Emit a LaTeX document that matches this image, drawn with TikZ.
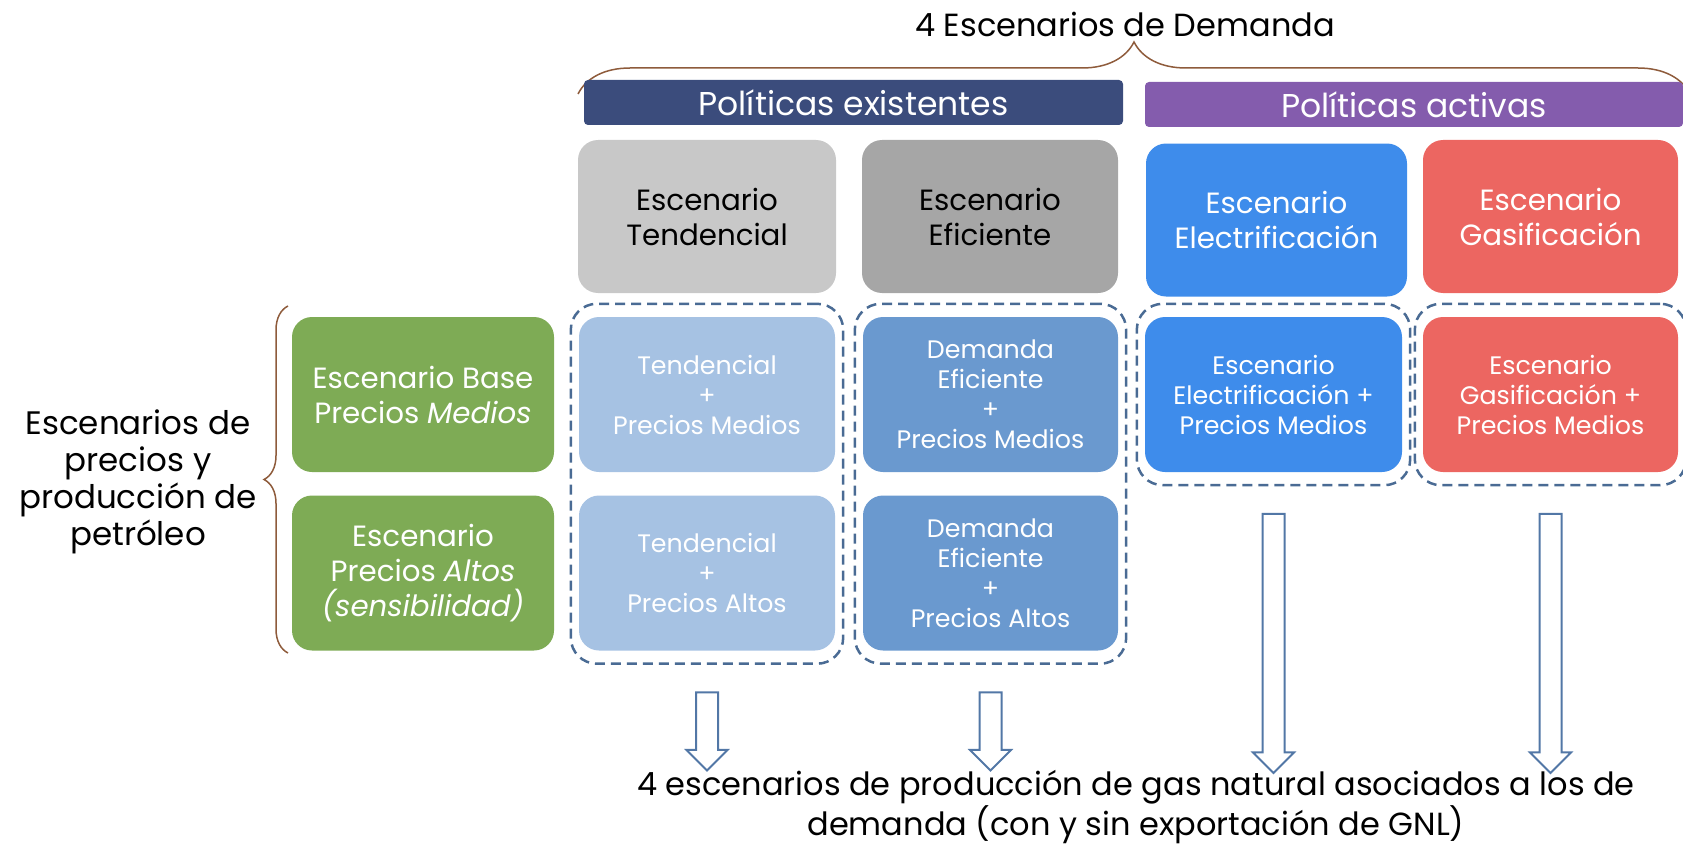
\documentclass[tikz,border=0pt]{standalone}
\usepackage{fontspec}
\setmainfont{Poppins}
\usepackage{tikz}
\usepackage{xcolor}
\usetikzlibrary{calc}
\usetikzlibrary{fit}
\usetikzlibrary{shapes.arrows}
\usetikzlibrary{decorations.pathreplacing}
\definecolor{navybar}{HTML}{3B4C7C}
\definecolor{purplebar}{HTML}{845CAD}
\definecolor{graylight}{HTML}{C8C8C8}
\definecolor{graydark}{HTML}{A6A6A6}
\definecolor{elecblue}{HTML}{3E8CEB}
\definecolor{gasred}{HTML}{EC6661}
\definecolor{pricegreen}{HTML}{7EAB55}
\definecolor{bluelight}{HTML}{A6C2E3}
\definecolor{bluemid}{HTML}{6A99CF}
\definecolor{dashcolor}{HTML}{4A6B94}
\definecolor{arrowcolor}{HTML}{5277A6}
\definecolor{bracecolor}{HTML}{8E5B3B}
\newcommand{\bigtext}{\fontsize{32}{37}\selectfont}
\newcommand{\sidetext}{\fontsize{32.5}{37}\selectfont}
\newcommand{\bartext}{\fontsize{33}{37}\selectfont}
\newcommand{\boxtext}{\fontsize{29.3}{35}\selectfont}
\newcommand{\smalltext}{\fontsize{25.3}{30}\selectfont}
\tikzstyle{bar} = [
    rectangle,
    rounded corners=4pt,
    minimum height=45pt,
    inner sep=0pt,
    text=white,
    font=\bartext
    ]
\tikzstyle{topbox} = [
    rectangle,
    rounded corners=20pt,
    minimum height=153pt,
    inner sep=0pt,
    align=center,
    font=\boxtext
    ]
\tikzstyle{pricebox} = [
    rectangle,
    rounded corners=20pt,
    minimum width=262pt,
    minimum height=155pt,
    inner sep=0pt,
    fill=pricegreen,
    text=white,
    align=center,
    font=\boxtext
    ]
\tikzstyle{combobox} = [
    rectangle,
    rounded corners=20pt,
    minimum height=155pt,
    inner sep=0pt,
    text=white,
    align=center,
    font=\smalltext
    ]
\tikzstyle{groupbox} = [
    draw=dashcolor,
    line width=2.5pt,
    dash pattern=on 10pt off 6pt,
    rounded corners=26pt,
    inner xsep=8pt,
    inner ysep=13pt
    ]
\tikzstyle{downarrow} = [
    single arrow,
    draw=arrowcolor,
    fill=white,
    line width=2pt,
    rotate=-90,
    minimum width=39pt,
    single arrow head extend=9.5pt,
    single arrow tip angle=90,
    inner xsep=0pt,
    inner ysep=10pt,
    outer sep=0pt
    ]
\tikzstyle{bracepath} = [
    draw=bracecolor,
    line width=1.5pt,
    decorate
    ]

\begin{document}
\begin{tikzpicture}[x=1pt,y=-1pt]
\useasboundingbox (0,0) rectangle (1683,848);

\node[font=\bigtext, inner sep=0pt] (title) at (1125,24) {4 Escenarios de Demanda};
\draw[bracepath, decoration={brace, amplitude=52pt}] (578,94) -- (1690,94);

% policy bars
\node[bar, fill=navybar, minimum width=539pt] (existing) at (853.5,102.5) {Políticas existentes};
\node[bar, fill=purplebar, minimum width=538pt] (active) at (1414,104.5) {Políticas activas};

% demand scenarios
\node[topbox, fill=graylight, minimum width=258pt] (tend) at (707,216.5) {Escenario\\Tendencial};
\node[topbox, fill=graydark, minimum width=256pt] (efic) at (990,216.5) {Escenario\\Eficiente};
\node[topbox, fill=elecblue, text=white, minimum width=261pt] (elec) at (1276.5,220) {Escenario\\Electrificación};
\node[topbox, fill=gasred, text=white, minimum width=255pt] (gas) at (1550.5,216.5) {Escenario\\Gasificación};

% price scenarios
\node[font=\sidetext, align=center, inner sep=0pt] (prices) at (138,482) {Escenarios de\\precios y\\producción de\\petróleo};
\draw[bracepath, decoration={brace, amplitude=24pt}] (288,653) -- (288,306);
\node[pricebox] (base) at (423,394.5) {Escenario Base\\Precios \textit{Medios}};
\node[pricebox] (high) at (423,573) {Escenario\\Precios \textit{Altos}\\\textit{(sensibilidad)}};

% combined scenarios
\node[combobox, fill=bluelight, minimum width=256pt] (tendmed) at (707,394.5) {Tendencial\\+\\Precios Medios};
\node[combobox, fill=bluelight, minimum width=256pt] (tendalt) at (707,573) {Tendencial\\+\\Precios Altos};
\node[combobox, fill=bluemid, minimum width=255pt] (efimed) at (990.5,394.5) {Demanda\\Eficiente\\+\\Precios Medios};
\node[combobox, fill=bluemid, minimum width=255pt] (efialt) at (990.5,573) {Demanda\\Eficiente\\+\\Precios Altos};
\node[combobox, fill=elecblue, minimum width=257pt] (elecmed) at (1273.5,394.5) {Escenario\\Electrificación +\\Precios Medios};
\node[combobox, fill=gasred, minimum width=255pt] (gasmed) at (1550.5,394.5) {Escenario\\Gasificación +\\Precios Medios};

\node[groupbox, fit=(tendmed)(tendalt)] (grouptend) {};
\node[groupbox, fit=(efimed)(efialt)] (groupefic) {};
\node[groupbox, fit=(elecmed)] (groupelec) {};
\node[groupbox, fit=(gasmed)] (groupgas) {};

% arrows to gas production
\node[downarrow, minimum height=78pt] (arrtend) at ($(grouptend.south)+(0,61)$) {};
\node[downarrow, minimum height=78pt] (arrefic) at ($(groupefic.south)+(0,61)$) {};
\node[downarrow, minimum height=259pt] (arrelec) at ($(groupelec.south)+(0,151.5)$) {};
\node[downarrow, minimum height=259pt] (arrgas) at ($(groupgas.south)+(0,151.5)$) {};

\node[font=\bigtext, align=center, inner sep=0pt] (gasprod) at (1136,807) {4 escenarios de producción de gas natural asociados a los de\\demanda (con y sin exportación de GNL)};
\end{tikzpicture}
\end{document}
